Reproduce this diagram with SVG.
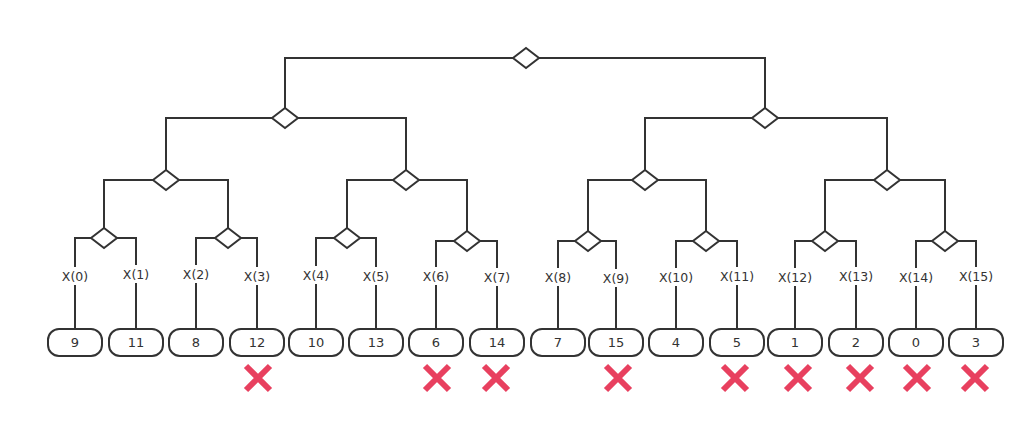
<svg xmlns="http://www.w3.org/2000/svg" xmlns:xlink="http://www.w3.org/1999/xlink" width="1035" height="433" viewBox="0 0 1035 433">
<style>
.ln{fill:none;stroke:#333;stroke-width:2}
.dm{fill:#fff;stroke:#333;stroke-width:2;stroke-linejoin:miter}
.bx{fill:#fff;stroke:#333;stroke-width:2}
.bt{font-family:"DejaVu Sans",sans-serif;font-size:13px;fill:#333;text-anchor:middle}
.lt{font-family:"DejaVu Sans",sans-serif;font-size:12.5px;fill:#333;text-anchor:middle}
.lb{fill:#fff;stroke:none}
.x{stroke:#E8405F;stroke-width:6;fill:none}
</style>
<defs>
<polygon id="dia" class="dm" points="-13,0 0,-10 13,0 0,10"/>
<rect id="box" class="bx" x="-27" y="-13.5" width="54" height="27" rx="11" ry="11"/>
<path id="cross" class="x" d="M-12,-12L12,12M12,-12L-12,12"/>
</defs>
<rect width="1035" height="433" fill="#fff"/>
<g id="connectors">
<path class="ln" d="M513,58H285V108M539,58H765V108"/>
<path class="ln" d="M272,118H166V170M298,118H406V170M752,118H645V170M778,118H887V170"/>
<path class="ln" d="M153,180H104V228M179,180H228V228M393,180H347V228M419,180H467V231M632,180H588V231M658,180H706V231M874,180H825V231M900,180H945V231"/>
<path class="ln" d="M91,238H75V329M117,238H136V329M215,238H196V329M241,238H257V329M334,238H316V329M360,238H376V329M454,241H436V329M480,241H497V329M575,241H558V329M601,241H616V329M693,241H676V329M719,241H737V329M812,241H795V329M838,241H856V329M932,241H916V329M958,241H976V329"/>
<g id="labels">
<rect class="lb" x="61" y="267" width="28" height="18"/><text class="lt" x="75" y="280.5">X(0)</text>
<rect class="lb" x="122" y="265" width="28" height="18"/><text class="lt" x="136" y="278.5">X(1)</text>
<rect class="lb" x="182" y="265" width="28" height="18"/><text class="lt" x="196" y="278.5">X(2)</text>
<rect class="lb" x="243" y="267" width="28" height="18"/><text class="lt" x="257" y="280.5">X(3)</text>
<rect class="lb" x="302" y="266" width="28" height="18"/><text class="lt" x="316" y="279.5">X(4)</text>
<rect class="lb" x="362" y="267" width="28" height="18"/><text class="lt" x="376" y="280.5">X(5)</text>
<rect class="lb" x="422" y="267" width="28" height="18"/><text class="lt" x="436" y="280.5">X(6)</text>
<rect class="lb" x="483" y="268" width="28" height="18"/><text class="lt" x="497" y="281.5">X(7)</text>
<rect class="lb" x="544" y="268" width="28" height="18"/><text class="lt" x="558" y="281.5">X(8)</text>
<rect class="lb" x="602" y="269" width="28" height="18"/><text class="lt" x="616" y="282.5">X(9)</text>
<rect class="lb" x="658" y="268" width="36" height="18"/><text class="lt" x="676" y="281.5">X(10)</text>
<rect class="lb" x="719" y="267" width="36" height="18"/><text class="lt" x="737" y="280.5">X(11)</text>
<rect class="lb" x="777" y="268" width="36" height="18"/><text class="lt" x="795" y="281.5">X(12)</text>
<rect class="lb" x="838" y="267" width="36" height="18"/><text class="lt" x="856" y="280.5">X(13)</text>
<rect class="lb" x="898" y="268" width="36" height="18"/><text class="lt" x="916" y="281.5">X(14)</text>
<rect class="lb" x="958" y="267" width="36" height="18"/><text class="lt" x="976" y="280.5">X(15)</text>
</g>
</g>
<g id="d-root"><use xlink:href="#dia" x="526" y="58"/></g>
<g id="d-l1a"><use xlink:href="#dia" x="285" y="118"/></g>
<g id="d-l1b"><use xlink:href="#dia" x="765" y="118"/></g>
<g id="d-l2a"><use xlink:href="#dia" x="166" y="180"/></g>
<g id="d-l2b"><use xlink:href="#dia" x="406" y="180"/></g>
<g id="d-l2c"><use xlink:href="#dia" x="645" y="180"/></g>
<g id="d-l2d"><use xlink:href="#dia" x="887" y="180"/></g>
<g id="d-l3a"><use xlink:href="#dia" x="104" y="238"/></g>
<g id="d-l3b"><use xlink:href="#dia" x="228" y="238"/></g>
<g id="d-l3c"><use xlink:href="#dia" x="347" y="238"/></g>
<g id="d-l3d"><use xlink:href="#dia" x="467" y="241"/></g>
<g id="d-l3e"><use xlink:href="#dia" x="588" y="241"/></g>
<g id="d-l3f"><use xlink:href="#dia" x="706" y="241"/></g>
<g id="d-l3g"><use xlink:href="#dia" x="825" y="241"/></g>
<g id="d-l3h"><use xlink:href="#dia" x="945" y="241"/></g>
<g id="leaf0"><use xlink:href="#box" x="75" y="342.5"/><text class="bt" x="75" y="347">9</text></g>
<g id="leaf1"><use xlink:href="#box" x="136" y="342.5"/><text class="bt" x="136" y="347">11</text></g>
<g id="leaf2"><use xlink:href="#box" x="196" y="342.5"/><text class="bt" x="196" y="347">8</text></g>
<g id="leaf3"><use xlink:href="#box" x="257" y="342.5"/><text class="bt" x="257" y="347">12</text></g>
<g id="leaf4"><use xlink:href="#box" x="316" y="342.5"/><text class="bt" x="316" y="347">10</text></g>
<g id="leaf5"><use xlink:href="#box" x="376" y="342.5"/><text class="bt" x="376" y="347">13</text></g>
<g id="leaf6"><use xlink:href="#box" x="436" y="342.5"/><text class="bt" x="436" y="347">6</text></g>
<g id="leaf7"><use xlink:href="#box" x="497" y="342.5"/><text class="bt" x="497" y="347">14</text></g>
<g id="leaf8"><use xlink:href="#box" x="558" y="342.5"/><text class="bt" x="558" y="347">7</text></g>
<g id="leaf9"><use xlink:href="#box" x="616" y="342.5"/><text class="bt" x="616" y="347">15</text></g>
<g id="leaf10"><use xlink:href="#box" x="676" y="342.5"/><text class="bt" x="676" y="347">4</text></g>
<g id="leaf11"><use xlink:href="#box" x="737" y="342.5"/><text class="bt" x="737" y="347">5</text></g>
<g id="leaf12"><use xlink:href="#box" x="795" y="342.5"/><text class="bt" x="795" y="347">1</text></g>
<g id="leaf13"><use xlink:href="#box" x="856" y="342.5"/><text class="bt" x="856" y="347">2</text></g>
<g id="leaf14"><use xlink:href="#box" x="916" y="342.5"/><text class="bt" x="916" y="347">0</text></g>
<g id="leaf15"><use xlink:href="#box" x="976" y="342.5"/><text class="bt" x="976" y="347">3</text></g>
<g id="marks">
<use xlink:href="#cross" x="258" y="378"/>
<use xlink:href="#cross" x="437" y="378"/>
<use xlink:href="#cross" x="496" y="378"/>
<use xlink:href="#cross" x="618" y="378"/>
<use xlink:href="#cross" x="735" y="378"/>
<use xlink:href="#cross" x="798" y="378"/>
<use xlink:href="#cross" x="860" y="378"/>
<use xlink:href="#cross" x="917" y="378"/>
<use xlink:href="#cross" x="975" y="378"/>
</g>
</svg>
